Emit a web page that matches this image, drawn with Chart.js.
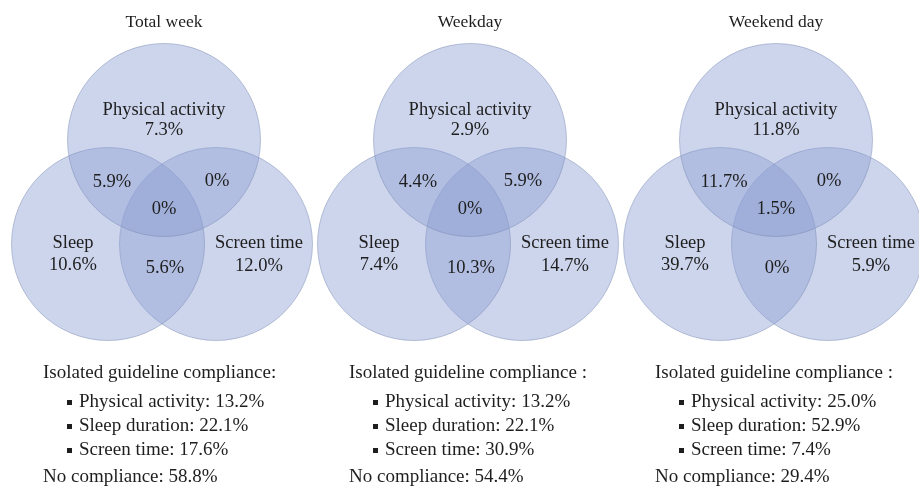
<!DOCTYPE html>
<html>
<head>
<meta charset="utf-8">
<script src="https://cdn.jsdelivr.net/npm/chart.js@4/dist/chart.umd.min.js"></script>
<style>
  html, body { margin: 0; padding: 0; background: #ffffff; }
  #wrap { width: 919px; height: 490px; position: relative; }
</style>
</head>
<body>
<div id="wrap"><canvas id="c" width="919" height="490"></canvas></div>
<script>
// ---------------- DATA ----------------
const panels = ['Total week', 'Weekday', 'Weekend day'];
const setNames = ['Physical activity', 'Sleep', 'Screen time'];
const onlyPA = [7.3, 2.9, 11.8];
const onlySleep = [10.6, 7.4, 39.7];
const onlyScreen = [12.0, 14.7, 5.9];
const paSleep = [5.9, 4.4, 11.7];
const paScreen = [0, 5.9, 0];
const sleepScreen = [5.6, 10.3, 0];
const allThree = [0, 0, 1.5];
const isolatedHeadings = ['Isolated guideline compliance:', 'Isolated guideline compliance :', 'Isolated guideline compliance :'];
const isolatedNames = ['Physical activity', 'Sleep duration', 'Screen time'];
const isolatedPA = [13.2, 13.2, 25.0];
const isolatedSleep = [22.1, 22.1, 52.9];
const isolatedScreen = [17.6, 30.9, 7.4];
const noCompliance = [58.8, 54.4, 29.4];

// ---------------- LAYOUT (pixel-space units of the hidden scales) ----------------
const W = 919, H = 490;
const panelOffset = [0, 306, 612];
const circleR = 96.5;
const circleCenters = { pa: [164, 140], sleep: [108, 244], screen: [216, 244] };
const FONT = '"Liberation Serif", "Times New Roman", serif';
const TEXT = '#1e1e1e';

function fmt(v) { return v === 0 ? '0%' : v.toFixed(1) + '%'; }

function circleData(key) {
  return panels.map((p, i) => ({ x: circleCenters[key][0] + panelOffset[i], y: circleCenters[key][1], r: circleR }));
}

const fillCol = 'rgba(140,158,212,0.43)';
const borderCol = 'rgba(118,132,176,0.45)';

const labelPlugin = {
  id: 'vennLabels',
  afterDatasetsDraw(chart) {
    const ctx = chart.ctx;
    const xs = chart.scales.x, ys = chart.scales.y;
    const P = (x, y) => [xs.getPixelForValue(x), ys.getPixelForValue(y)];
    ctx.save();
    ctx.fillStyle = TEXT;
    ctx.textBaseline = 'middle';
    ctx.textAlign = 'center';
    const txt = (s, x, y, size) => {
      ctx.font = size + 'px ' + FONT;
      const p = P(x, y);
      ctx.fillText(s, p[0], p[1]);
    };
    panels.forEach((title, i) => {
      const o = panelOffset[i];
      ctx.textAlign = 'center';
      txt(title, 164 + o, 22, 17.5);
      txt(setNames[0], 164 + o, 110, 18.5);
      txt(fmt(onlyPA[i]), 164 + o, 130, 18.5);
      txt(fmt(paSleep[i]), 112 + o, 182, 18.5);
      txt(fmt(paScreen[i]), 217 + o, 181, 18.5);
      txt(fmt(allThree[i]), 164 + o, 209, 18.5);
      txt(setNames[1], 73 + o, 243, 18.5);
      txt(fmt(onlySleep[i]), 73 + o, 265, 18.5);
      txt(setNames[2], 259 + o, 243, 18.5);
      txt(fmt(onlyScreen[i]), 259 + o, 266, 18.5);
      txt(fmt(sleepScreen[i]), 165 + o, 268, 18.5);

      // bottom text block
      ctx.textAlign = 'left';
      txt(isolatedHeadings[i], 43 + o, 373, 19);
      const vals = [isolatedPA[i], isolatedSleep[i], isolatedScreen[i]];
      const ysb = [402, 426, 450];
      vals.forEach((v, k) => {
        const bp = P(67 + o, ysb[k]);
        ctx.fillRect(bp[0], bp[1] - 2, 5, 5);
        txt(isolatedNames[k] + ': ' + fmt(v), 79 + o, ysb[k], 19);
      });
      txt('No compliance: ' + fmt(noCompliance[i]), 43 + o, 477, 19);
    });
    ctx.restore();
  }
};

const ds = (label, key) => ({
  label,
  data: circleData(key),
  backgroundColor: fillCol,
  borderColor: borderCol,
  borderWidth: 1,
  hoverRadius: 0
});

new Chart(document.getElementById('c'), {
  type: 'bubble',
  data: {
    datasets: [ds(setNames[0], 'pa'), ds(setNames[1], 'sleep'), ds(setNames[2], 'screen')]
  },
  options: {
    responsive: false,
    animation: false,
    events: [],
    layout: { padding: 0, autoPadding: false },
    plugins: { legend: { display: false }, tooltip: { enabled: false }, title: { display: false } },
    scales: {
      x: { type: 'linear', min: 0, max: W, display: false },
      y: { type: 'linear', min: 0, max: H, reverse: true, display: false }
    }
  },
  plugins: [labelPlugin]
});
</script>
</body>
</html>
